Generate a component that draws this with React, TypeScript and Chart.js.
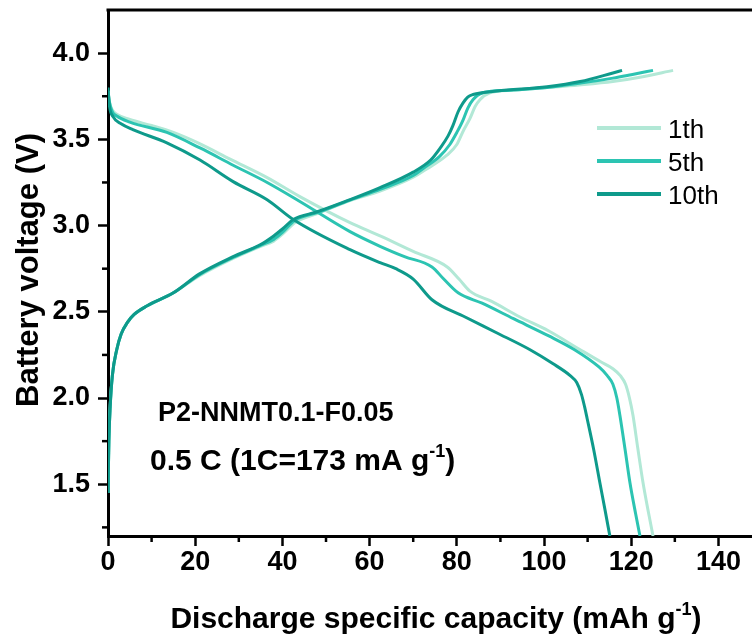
import React, { useEffect, useRef } from "react";
import { Chart, registerables } from "chart.js";

Chart.register(...registerables);

// ---------- data ----------
const seriesLabels = ["1th", "5th", "10th"];
const seriesColors = ["#b2e8d6", "#2cc4b2", "#0e9a8b"];

const xTicks = [0, 20, 40, 60, 80, 100, 120, 140];
const xMinorTicks = [10, 30, 50, 70, 90, 110, 130];
const yTicks = [1.5, 2.0, 2.5, 3.0, 3.5, 4.0];
const yMinorTicks = [1.25, 1.75, 2.25, 2.75, 3.25, 3.75];

// discharge curves
const dis1Cap = [0, 0.3, 1, 2, 5, 10, 15, 21, 28, 36.5, 44, 55.5, 62.4, 70, 77.8, 80.5, 83, 88, 94.5, 101, 108.3, 113, 115.8, 117.5, 118.7, 119.6, 120.4, 121.5, 122.7, 124, 125];
const dis1V = [3.78, 3.72, 3.67, 3.645, 3.615, 3.58, 3.54, 3.475, 3.385, 3.278, 3.168, 3.017, 2.94, 2.85, 2.76, 2.69, 2.62, 2.56, 2.47, 2.39, 2.28, 2.21, 2.17, 2.13, 2.08, 2.0, 1.90, 1.71, 1.51, 1.33, 1.2];

const dis5Cap = [0, 0.3, 1, 2, 5, 13.5, 21.1, 28.7, 36.5, 44, 55.5, 62.4, 68, 74.3, 77, 80.3, 85.8, 93, 101.1, 107, 112.6, 114.5, 115.8, 116.7, 117.4, 118.6, 119.7, 121, 122];
const dis5V = [3.78, 3.72, 3.66, 3.635, 3.60, 3.54, 3.45, 3.35, 3.25, 3.14, 2.965, 2.88, 2.82, 2.76, 2.69, 2.61, 2.55, 2.46, 2.36, 2.28, 2.18, 2.13, 2.08, 2.0, 1.9, 1.70, 1.51, 1.33, 1.2];

const dis10Cap = [0, 0.3, 1.2, 3, 5.7, 13.5, 21.1, 28.7, 36.5, 42.5, 55.5, 62.4, 66, 70, 74.3, 81.9, 89, 96.8, 102, 106, 107.5, 108.6, 109.3, 109.9, 111.4, 112.8, 114, 115.1];
const dis10V = [3.80, 3.70, 3.63, 3.59, 3.556, 3.48, 3.38, 3.255, 3.15, 3.035, 2.86, 2.785, 2.75, 2.69, 2.57, 2.47, 2.38, 2.28, 2.2, 2.13, 2.09, 2.02, 1.95, 1.88, 1.70, 1.51, 1.35, 1.2];

// charge curves
const ch1Cap = [0, 0.2, 0.5, 1, 2, 3, 4.5, 6, 9, 15, 21, 28.7, 35, 38, 40, 43, 48, 55.5, 62.4, 70, 73.2, 77.8, 80, 81.5, 83, 84.2, 85.3, 87.6, 93, 100.7, 108, 115.8, 122, 129.6];
const ch1V = [1.45, 1.75, 1.95, 2.13, 2.28, 2.37, 2.44, 2.485, 2.535, 2.61, 2.71, 2.81, 2.88, 2.91, 2.95, 3.02, 3.07, 3.145, 3.20, 3.28, 3.33, 3.41, 3.47, 3.55, 3.62, 3.69, 3.73, 3.77, 3.785, 3.80, 3.815, 3.835, 3.86, 3.90];

const ch5Cap = [0, 0.2, 0.5, 1, 2, 3, 4.5, 6, 9, 15, 21, 28.7, 35, 38, 40, 42.8, 48, 55.5, 62.4, 70, 72.2, 76, 78.4, 80, 81.4, 82.5, 83.7, 86, 92, 100.7, 108, 115.8, 120, 125];
const ch5V = [1.45, 1.75, 1.95, 2.13, 2.28, 2.37, 2.44, 2.485, 2.535, 2.61, 2.715, 2.815, 2.885, 2.92, 2.96, 3.03, 3.075, 3.148, 3.21, 3.29, 3.33, 3.40, 3.47, 3.54, 3.61, 3.68, 3.73, 3.77, 3.785, 3.80, 3.825, 3.855, 3.875, 3.90];

const ch10Cap = [0, 0.2, 0.5, 1, 2, 3, 4.5, 6, 9, 15, 21, 28.7, 35, 38, 40, 42.5, 48, 55.5, 62.4, 70, 74, 76.2, 78, 79.1, 80.3, 81.4, 82.5, 83.7, 89.2, 100.7, 108.3, 115.8, 117.9];
const ch10V = [1.45, 1.75, 1.95, 2.13, 2.28, 2.37, 2.44, 2.485, 2.535, 2.61, 2.72, 2.82, 2.89, 2.94, 2.98, 3.035, 3.08, 3.15, 3.22, 3.31, 3.38, 3.45, 3.52, 3.58, 3.66, 3.71, 3.745, 3.76, 3.78, 3.805, 3.835, 3.885, 3.90];

const sampleName = "P2-NNMT0.1-F0.05";
const rateParts = [{ t: "0.5 C (1C=173 mA g" }, { t: "-1", sup: true }, { t: ")" }];
const xTitleParts = [{ t: "Discharge specific capacity (mAh g" }, { t: "-1", sup: true }, { t: ")" }];
const yTitle = "Battery voltage (V)";

const FONT = '"Liberation Sans", Arial, Helvetica, sans-serif';

function toPoints(xs: number[], ys: number[]) {
  return xs.map((x, i) => ({ x, y: ys[i] }));
}

type Part = { t: string; sup?: boolean };

function drawParts(ctx: CanvasRenderingContext2D, parts: Part[], cx: number, y: number, size: number, align: "center" | "left") {
  const supSize = Math.round(size * 0.6);
  const widths = parts.map((p) => {
    ctx.font = `bold ${p.sup ? supSize : size}px ${FONT}`;
    return ctx.measureText(p.t).width;
  });
  const total = widths.reduce((a, b) => a + b, 0);
  let x = align === "center" ? cx - total / 2 : cx;
  ctx.textAlign = "left";
  ctx.textBaseline = "alphabetic";
  parts.forEach((p, i) => {
    ctx.font = `bold ${p.sup ? supSize : size}px ${FONT}`;
    ctx.fillText(p.t, x, p.sup ? y - size * 0.42 : y);
    x += widths[i];
  });
}

const decorPlugin = {
  id: "decor",
  afterDraw(chart: any) {
    const ctx: CanvasRenderingContext2D = chart.ctx;
    const { left, right, top, bottom } = chart.chartArea;
    const xs = chart.scales.x;
    const ys = chart.scales.y;
    ctx.save();
    ctx.strokeStyle = "#000";
    ctx.fillStyle = "#000";
    // top frame line
    ctx.lineWidth = 3;
    ctx.beginPath();
    ctx.moveTo(left - 1.5, top);
    ctx.lineTo(right + 2, top);
    ctx.stroke();
    // minor ticks
    ctx.lineWidth = 2.5;
    xMinorTicks.forEach((v) => {
      const px = xs.getPixelForValue(v);
      ctx.beginPath();
      ctx.moveTo(px, bottom);
      ctx.lineTo(px, bottom + 6);
      ctx.stroke();
    });
    yMinorTicks.forEach((v) => {
      const py = ys.getPixelForValue(v);
      ctx.beginPath();
      ctx.moveTo(left, py);
      ctx.lineTo(left - 6, py);
      ctx.stroke();
    });
    // axis titles
    drawParts(ctx, xTitleParts, 436, 628, 30, "center");
    ctx.save();
    ctx.translate(38, (top + bottom) / 2 - 3);
    ctx.rotate(-Math.PI / 2);
    ctx.font = `bold 31px ${FONT}`;
    ctx.textAlign = "center";
    ctx.textBaseline = "alphabetic";
    ctx.fillText(yTitle, 0, 0);
    ctx.restore();
    // annotations
    ctx.font = `bold 27px ${FONT}`;
    ctx.textAlign = "left";
    ctx.fillText(sampleName, 158, 421);
    drawParts(ctx, rateParts, 150, 470, 30, "left");
    // legend
    const legendY = [128, 161, 194];
    seriesLabels.forEach((lab, i) => {
      ctx.strokeStyle = seriesColors[i];
      ctx.lineWidth = 4;
      ctx.beginPath();
      ctx.moveTo(597, legendY[i]);
      ctx.lineTo(661, legendY[i]);
      ctx.stroke();
      ctx.fillStyle = "#000";
      ctx.font = `26px ${FONT}`;
      ctx.textAlign = "left";
      ctx.textBaseline = "alphabetic";
      ctx.fillText(lab, 668, legendY[i] + 9.5);
    });
    ctx.restore();
  },
};

export default function App() {
  const ref = useRef<HTMLCanvasElement | null>(null);
  useEffect(() => {
    document.body.style.margin = "0";
    const canvas = ref.current;
    if (!canvas) return;
    const mk = (label: string, xs: number[], ys: number[], color: string) => ({
      label,
      data: toPoints(xs, ys),
      showLine: true,
      borderColor: color,
      backgroundColor: color,
      borderWidth: 3,
      pointRadius: 0,
      cubicInterpolationMode: "monotone" as const,
      fill: false,
    });
    // dataset 0 is drawn on top
    const datasets = [
      mk("10th charge", ch10Cap, ch10V, seriesColors[2]),
      mk("10th", dis10Cap, dis10V, seriesColors[2]),
      mk("5th charge", ch5Cap, ch5V, seriesColors[1]),
      mk("5th", dis5Cap, dis5V, seriesColors[1]),
      mk("1th charge", ch1Cap, ch1V, seriesColors[0]),
      mk("1th", dis1Cap, dis1V, seriesColors[0]),
    ];
    const chart = new Chart(canvas, {
      type: "scatter",
      data: { datasets },
      options: {
        responsive: false,
        animation: false,
        layout: { padding: { top: 10, left: 0, right: 0, bottom: 0 } },
        plugins: { legend: { display: false }, tooltip: { enabled: false } },
        scales: {
          x: {
            type: "linear",
            min: 0,
            max: 147.7,
            afterBuildTicks: (axis: any) => {
              axis.ticks = xTicks.map((v) => ({ value: v }));
            },
            afterFit: (axis: any) => {
              axis.height = 105;
              axis.paddingLeft = 0;
              axis.paddingRight = 0;
            },
            ticks: {
              color: "#000",
              font: { family: FONT, size: 27, weight: "bold" },
              padding: 0,
              maxRotation: 0,
              autoSkip: false,
              callback: (v: any) => String(v),
            },
            grid: { drawOnChartArea: false, drawTicks: true, tickLength: 10, tickColor: "#000", tickWidth: 2.5 },
            border: { display: true, color: "#000", width: 3 },
          },
          y: {
            type: "linear",
            min: 1.2,
            max: 4.25,
            afterBuildTicks: (axis: any) => {
              axis.ticks = yTicks.map((v) => ({ value: v }));
            },
            afterFit: (axis: any) => {
              axis.width = 108;
              axis.paddingTop = 0;
              axis.paddingBottom = 0;
            },
            ticks: {
              color: "#000",
              font: { family: FONT, size: 27, weight: "bold" },
              padding: 8,
              autoSkip: false,
              callback: (v: any) => Number(v).toFixed(1),
            },
            grid: { drawOnChartArea: false, drawTicks: true, tickLength: 10, tickColor: "#000", tickWidth: 2.5 },
            border: { display: true, color: "#000", width: 3 },
          },
        },
      },
      plugins: [decorPlugin],
    });
    return () => chart.destroy();
  }, []);
  return <canvas ref={ref} width={752} height={641} style={{ display: "block" }} />;
}
